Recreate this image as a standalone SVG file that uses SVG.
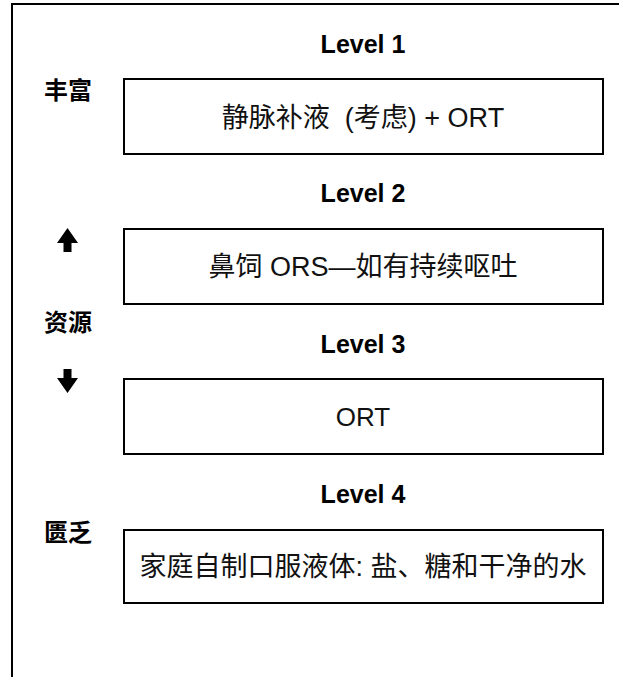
<svg xmlns="http://www.w3.org/2000/svg" width="619" height="677" viewBox="0 0 619 677">
<style>
.frame{fill:none;stroke:#000;stroke-width:2}
.box{fill:#fff;stroke:#000;stroke-width:2}
.lvl{font-family:"Liberation Sans","Noto Sans CJK SC",Arial,sans-serif;font-weight:bold;font-size:25px;text-anchor:middle;fill:#000}
.side{font-family:"Liberation Sans","Noto Sans CJK SC",sans-serif;font-weight:bold;font-size:24px;fill:#000}
.txt{font-family:"Liberation Sans","Noto Sans CJK SC",sans-serif;font-size:27px;text-anchor:middle;fill:#111}
.arr{fill:#000}
</style>
<rect width="619" height="677" fill="#fff"/>
<path class="frame" d="M12,677 V4 H619"/>
<g id="level1">
<text class="lvl" x="363" y="53">Level 1</text>
<rect class="box" x="124" y="79" width="479" height="75"/>
<text class="txt" x="363" y="127" xml:space="preserve">静脉补液  (考虑) + ORT</text>
</g>
<g id="level2">
<text class="lvl" x="363" y="202">Level 2</text>
<rect class="box" x="124" y="229" width="479" height="75"/>
<text class="txt" x="363" y="276">鼻饲 ORS—如有持续呕吐</text>
</g>
<g id="level3">
<text class="lvl" x="363" y="353">Level 3</text>
<rect class="box" x="124" y="379" width="479" height="75"/>
<text class="txt" x="363" y="426" style="font-size:26px">ORT</text>
</g>
<g id="level4">
<text class="lvl" x="363" y="503">Level 4</text>
<rect class="box" x="124" y="530" width="479" height="73"/>
<text class="txt" x="363" y="576">家庭自制口服液体: 盐、糖和干净的水</text>
</g>
<g id="scale">
<text class="side" x="44" y="99">丰富</text>
<text class="side" x="44" y="331">资源</text>
<text class="side" x="44" y="541">匮乏</text>
<polygon class="arr" points="67.5,228 78,243 71.5,243 71.5,252 63.5,252 63.5,243 57,243"/>
<polygon class="arr" points="63.5,369 71.5,369 71.5,378 78,378 67.5,393 57,378 63.5,378"/>
</g>
</svg>
